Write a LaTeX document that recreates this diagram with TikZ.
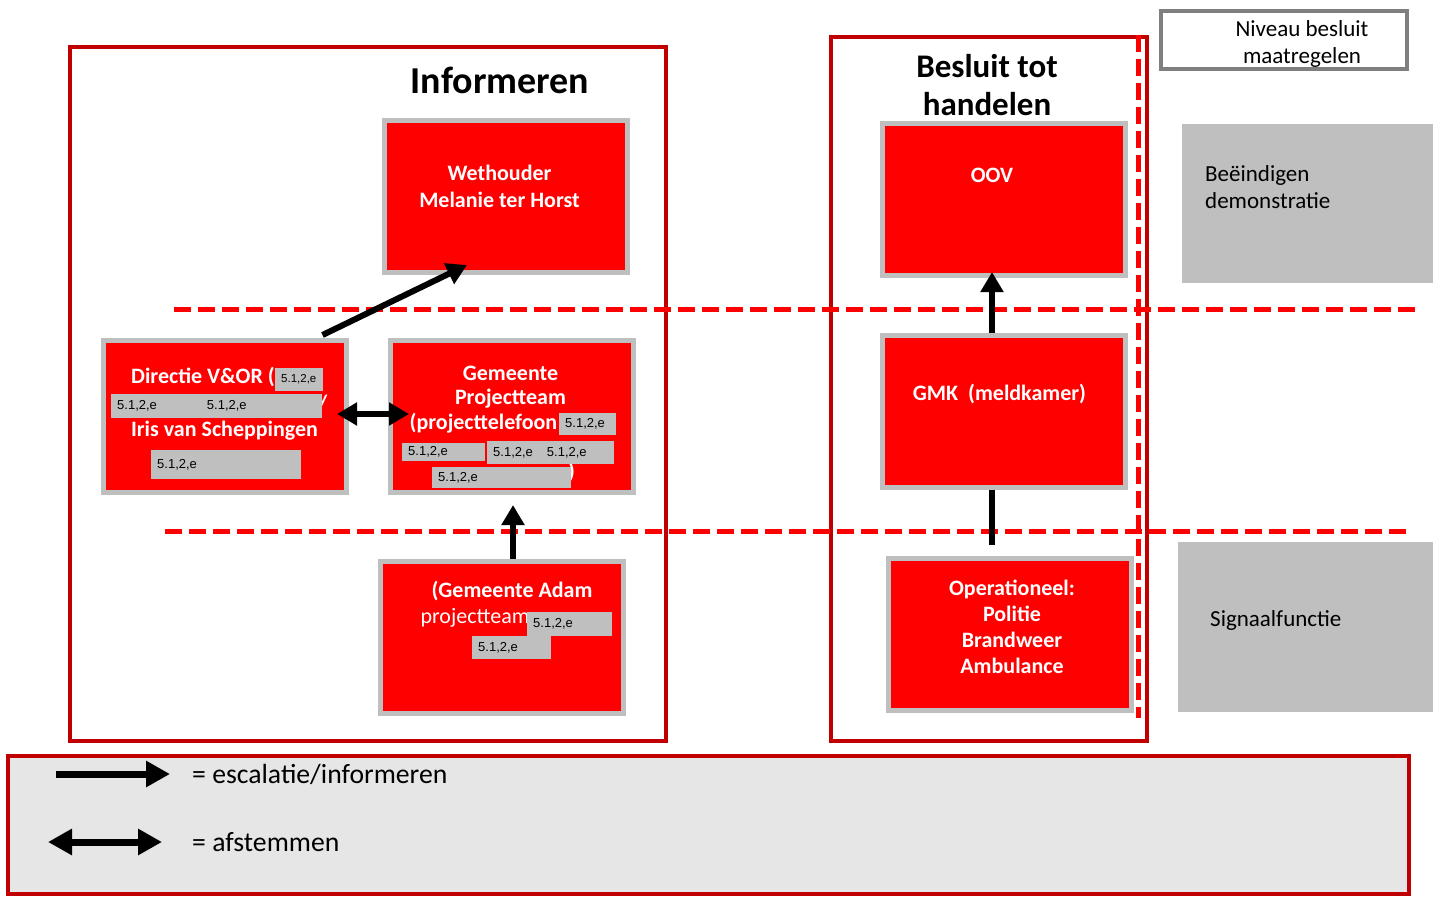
\documentclass[tikz,border=0pt]{standalone}
\usepackage{fontspec}
\setmainfont{Carlito}
\newfontfamily\redactfont{Liberation Sans}
\usetikzlibrary{positioning, arrows.meta}
\definecolor{boxred}{RGB}{255,0,0}
\definecolor{boxgray}{RGB}{191,191,191}
\definecolor{framered}{RGB}{192,0,0}
\definecolor{legendgray}{RGB}{230,230,230}
\definecolor{levelgray}{RGB}{127,127,127}
\definecolor{dashred}{RGB}{255,0,0}

\begin{document}
\begin{tikzpicture}[
    x=1pt, y=-1pt,
    framestyle/.style={draw=framered, line width=4pt},
    dashstyle/.style={draw=dashred, line width=5pt, dash pattern=on 17pt off 7pt},
    redbox/.style={draw=boxgray, line width=5pt, fill=boxred, minimum width=243pt, minimum height=152pt, inner sep=0pt},
    boxtext/.style={text=white, align=center, inner sep=0pt, font=\fontsize{22}{26.5}\selectfont\bfseries},
    redact/.style={fill=boxgray, anchor=north west, inner xsep=6pt, inner ysep=0pt, align=left, font=\redactfont\fontsize{13}{15}\selectfont},
    graybox/.style={fill=boxgray, anchor=north west, inner sep=0pt},
    sidetext/.style={align=left, anchor=west, inner sep=0pt, font=\fontsize{23}{27}\selectfont},
    heading/.style={align=center, inner sep=0pt, font=\fontsize{33}{38}\selectfont\bfseries},
    legendtext/.style={inner sep=0pt, font=\fontsize{27.7}{30}\selectfont},
    arrowstyle/.style={draw=black, line width=6pt, -{Triangle[length=20pt, width=22pt]}},
    duoarrow/.style={draw=black, line width=6pt, {Triangle[length=20pt, width=22pt]}-{Triangle[length=20pt, width=22pt]}},
    legendarrow/.style={draw=black, line width=7pt, -{Triangle[length=24pt, width=25pt]}},
    legendduo/.style={draw=black, line width=7pt, {Triangle[length=24pt, width=25pt]}-{Triangle[length=24pt, width=25pt]}},
]
\useasboundingbox (0,0) rectangle (1433,898);

% Frames
\draw[framestyle] (70,47) rectangle (666,741);
\draw[framestyle] (831,37) rectangle (1147,741);
\draw[framestyle, fill=legendgray] (8,756) rectangle (1409,894);

% Level separators
\draw[dashstyle] (174,309) -- (1416,309);
\draw[dashstyle] (165,531) -- (1410,531);
\draw[dashstyle] (1138,35) -- (1138,718);

% Headings
\node[heading, font=\fontsize{38}{42}\selectfont\bfseries] (informTitle) at (500,80) {Informeren};
\node[heading] (actTitle) at (987,85) {Besluit tot\\handelen};

% Level column
\node[draw=levelgray, line width=4pt, fill=white, minimum width=246pt, minimum height=58pt, anchor=north west, inner sep=0pt] (levelBox) at (1159,9) {};
\node[align=center, inner sep=0pt, font=\fontsize{23}{27}\selectfont] (levelText) at (1302,44) {Niveau besluit\\maatregelen};
\node[graybox, minimum width=251pt, minimum height=159pt] (endBox) at (1182,124) {};
\node[sidetext] (endText) at (1205,187) {Beëindigen\\demonstratie};
\node[graybox, minimum width=255pt, minimum height=170pt] (signalBox) at (1178,542) {};
\node[sidetext] (signalText) at (1210,620) {Signaalfunctie};

% Boxes
\node[redbox] (wethouder) at (506,196.5) {};
\node[redbox] (directie) at (224.5,416.5) {};
\node[redbox] (gemeente) at (511.5,416) {};
\node[redbox] (adam) at (501.5,637) {};
\node[redbox] (oov) at (1004,199.5) {};
\node[redbox] (gmk) at (1003.5,411) {};
\node[redbox] (operationeel) at (1009.5,634.5) {};

% Box texts
\node[boxtext] (wethouderText) at (499.5,186.5) {Wethouder\\Melanie ter Horst};
\node[boxtext] (directieText) at (224.5,404) {Directie V\&OR (\rule{43pt}{0pt}\\\rule{196pt}{0pt}/\\Iris van Scheppingen};
\node[boxtext, font=\fontsize{22}{24.6}\selectfont\bfseries] (gemeenteText) at (510.5,424) {Gemeente\\Projectteam\\(projecttelefoon\rule{54pt}{0pt}\\\mbox{}\\\rule{122pt}{0pt})};
\node[boxtext, font=\fontsize{22}{25.5}\selectfont\bfseries] (adamText) at (512,604) {(Gemeente Adam\\\mdseries projectteam\rule{74pt}{0pt}};
\node[boxtext] (oovText) at (992,175) {OOV};
\node[boxtext] (gmkText) at (999.5,394) {GMK\ \ (meldkamer)};
\node[boxtext, font=\fontsize{22}{26}\selectfont\bfseries] (operationeelText) at (1012,627) {Operationeel:\\Politie\\Brandweer\\Ambulance};

% Redactions
\node[redact, text width=36pt, minimum height=23pt, font=\redactfont\fontsize{11.5}{13}\selectfont] (dirRedactA) at (275,368) {5.1,2,e};
\node[redact, text width=199pt, minimum height=24pt] (dirRedactB) at (111,394) {5.1,2,e\hspace{50pt}5.1,2,e};
\node[redact, text width=138pt, minimum height=29pt] (dirRedactC) at (151,450) {5.1,2,e};
\node[redact, text width=45pt, minimum height=22pt] (gemRedactA) at (559,413) {5.1,2,e};
\node[redact, text width=71pt, minimum height=18pt] (gemRedactB) at (402,443) {5.1,2,e};
\node[redact, text width=115pt, minimum height=23pt] (gemRedactC) at (487,441) {5.1,2,e\hspace{14pt}5.1,2,e};
\node[redact, text width=127pt, minimum height=21pt] (gemRedactD) at (432,467) {5.1,2,e};
\node[redact, text width=73pt, minimum height=24pt] (adamRedactA) at (527,612) {5.1,2,e};
\node[redact, text width=67pt, minimum height=23pt] (adamRedactB) at (472,636) {5.1,2,e};

% Arrows
\draw[arrowstyle] ([xshift=-26pt, yshift=3pt]directie.north east) -- ([xshift=-39pt, yshift=10pt]wethouder.south);
\draw[duoarrow] ([xshift=-11.5pt, yshift=2.5pt]directie.east) -- ([xshift=21.5pt, yshift=2pt]gemeente.west);
\draw[arrowstyle] ([xshift=11.5pt]adam.north) -- ([xshift=1.5pt, yshift=-10.5pt]gemeente.south);
\draw[arrowstyle] ([xshift=-11.5pt]gmk.north) -- ([xshift=-12pt, yshift=6pt]oov.south);
\draw[line width=6pt] ([xshift=-11.5pt]gmk.south) -- ([xshift=-17.5pt, yshift=11pt]operationeel.north);

% Legend
\coordinate (escStart) at (56,774);
\coordinate (escEnd) at (170,774);
\draw[legendarrow] (escStart) -- (escEnd);
\node[legendtext, right=22pt of escEnd] (escText) {= escalatie/informeren};
\coordinate (duoStart) at (48,842);
\coordinate (duoEnd) at (162,842);
\draw[legendduo] (duoStart) -- (duoEnd);
\node[legendtext, right=30pt of duoEnd] (duoText) {= afstemmen};

\end{tikzpicture}
\end{document}
